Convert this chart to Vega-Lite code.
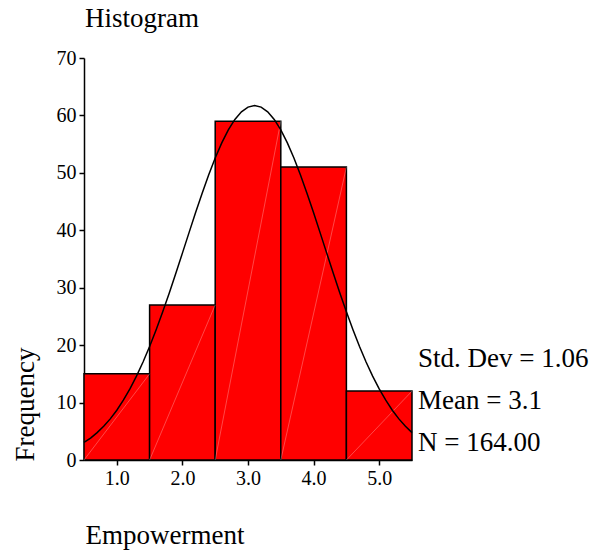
{
  "$schema": "https://vega.github.io/schema/vega-lite/v6.json",
  "autosize": "none",
  "width": 328,
  "height": 402,
  "padding": {"left": 84, "top": 58, "right": 185, "bottom": 95},
  "background": "white",
  "title": {
    "text": "Histogram",
    "anchor": "start",
    "frame": "group",
    "orient": "top",
    "baseline": "alphabetic",
    "offset": 20,
    "dx": 1,
    "dy": 26,
    "font": "Liberation Serif",
    "fontSize": 27,
    "fontWeight": "normal",
    "color": "black"
  },
  "config": {
    "view": {"stroke": null},
    "axis": {
      "grid": false,
      "domainColor": "black",
      "domainWidth": 1.5,
      "tickColor": "black",
      "tickWidth": 1.5,
      "tickSize": 5,
      "labelFont": "Liberation Serif",
      "labelFontSize": 20,
      "labelColor": "black",
      "labelPadding": 3,
      "titleFont": "Liberation Serif",
      "titleFontSize": 27,
      "titleFontWeight": "normal",
      "titleColor": "black"
    }
  },
  "datasets": {
    "bins": [
      {"bin_start": 0.5, "bin_end": 1.5, "count": 15},
      {"bin_start": 1.5, "bin_end": 2.5, "count": 27},
      {"bin_start": 2.5, "bin_end": 3.5, "count": 59},
      {"bin_start": 3.5, "bin_end": 4.5, "count": 51},
      {"bin_start": 4.5, "bin_end": 5.5, "count": 12}
    ],
    "curve": [
      {"x": 0.5, "y": 3.05}, {"x": 0.6, "y": 3.82}, {"x": 0.7, "y": 4.76}, {"x": 0.8, "y": 5.86},
      {"x": 0.9, "y": 7.16}, {"x": 1.0, "y": 8.67}, {"x": 1.1, "y": 10.41}, {"x": 1.2, "y": 12.38},
      {"x": 1.3, "y": 14.6}, {"x": 1.4, "y": 17.06}, {"x": 1.5, "y": 19.76}, {"x": 1.6, "y": 22.68},
      {"x": 1.7, "y": 25.8}, {"x": 1.8, "y": 29.09}, {"x": 1.9, "y": 32.52}, {"x": 2.0, "y": 36.02},
      {"x": 2.1, "y": 39.55}, {"x": 2.2, "y": 43.04}, {"x": 2.3, "y": 46.42}, {"x": 2.4, "y": 49.63},
      {"x": 2.5, "y": 52.58}, {"x": 2.6, "y": 55.22}, {"x": 2.7, "y": 57.48}, {"x": 2.8, "y": 59.3},
      {"x": 2.9, "y": 60.63}, {"x": 3.0, "y": 61.45}, {"x": 3.1, "y": 61.72}, {"x": 3.2, "y": 61.45},
      {"x": 3.3, "y": 60.63}, {"x": 3.4, "y": 59.3}, {"x": 3.5, "y": 57.48}, {"x": 3.6, "y": 55.22},
      {"x": 3.7, "y": 52.58}, {"x": 3.8, "y": 49.63}, {"x": 3.9, "y": 46.42}, {"x": 4.0, "y": 43.04},
      {"x": 4.1, "y": 39.55}, {"x": 4.2, "y": 36.02}, {"x": 4.3, "y": 32.52}, {"x": 4.4, "y": 29.09},
      {"x": 4.5, "y": 25.8}, {"x": 4.6, "y": 22.68}, {"x": 4.7, "y": 19.76}, {"x": 4.8, "y": 17.06},
      {"x": 4.9, "y": 14.6}, {"x": 5.0, "y": 12.38}, {"x": 5.1, "y": 10.41}, {"x": 5.2, "y": 8.67},
      {"x": 5.3, "y": 7.16}, {"x": 5.4, "y": 5.86}, {"x": 5.5, "y": 4.76}
    ],
    "stats": [
      {"label": "Std. Dev = 1.06", "y": 16.2, "x": 5.5},
      {"label": "Mean = 3.1", "y": 8.9, "x": 5.5},
      {"label": "N = 164.00", "y": 1.5, "x": 5.5}
    ]
  },
  "layer": [
    {
      "data": {"name": "bins"},
      "mark": {"type": "bar", "fill": "#ff0000", "stroke": "black", "strokeWidth": 1.5},
      "encoding": {
        "x": {
          "field": "bin_start", "type": "quantitative",
          "scale": {"domain": [0.5, 5.5], "nice": false, "zero": false},
          "axis": {
            "values": [1, 2, 3, 4, 5], "format": ".1f",
            "title": "Empowerment",
            "titleAlign": "left", "titleAnchor": "start",
            "titleBaseline": "alphabetic",
            "titleX": 1, "titleY": 83
          }
        },
        "x2": {"field": "bin_end"},
        "y": {
          "field": "count", "type": "quantitative",
          "scale": {"domain": [0, 70], "nice": false},
          "axis": {
            "values": [0, 10, 20, 30, 40, 50, 60, 70],
            "title": "Frequency",
            "titleAngle": -90,
            "titleAlign": "center",
            "titleBaseline": "alphabetic",
            "titleX": -51, "titleY": 346
          }
        },
        "y2": {"datum": 0}
      }
    },
    {
      "data": {"name": "bins"},
      "mark": {"type": "rule", "color": "white", "strokeWidth": 0.7, "opacity": 0.4},
      "encoding": {
        "x": {"field": "bin_end", "type": "quantitative"},
        "x2": {"field": "bin_start"},
        "y": {"field": "count", "type": "quantitative"},
        "y2": {"datum": 0}
      }
    },
    {
      "data": {"name": "curve"},
      "mark": {"type": "line", "color": "black", "strokeWidth": 1.5},
      "encoding": {
        "x": {"field": "x", "type": "quantitative"},
        "y": {"field": "y", "type": "quantitative"}
      }
    },
    {
      "data": {"name": "stats"},
      "mark": {
        "type": "text", "align": "left", "baseline": "alphabetic",
        "dx": 6, "font": "Liberation Serif", "fontSize": 27, "color": "black"
      },
      "encoding": {
        "x": {"field": "x", "type": "quantitative"},
        "y": {"field": "y", "type": "quantitative"},
        "text": {"field": "label"}
      }
    }
  ]
}
